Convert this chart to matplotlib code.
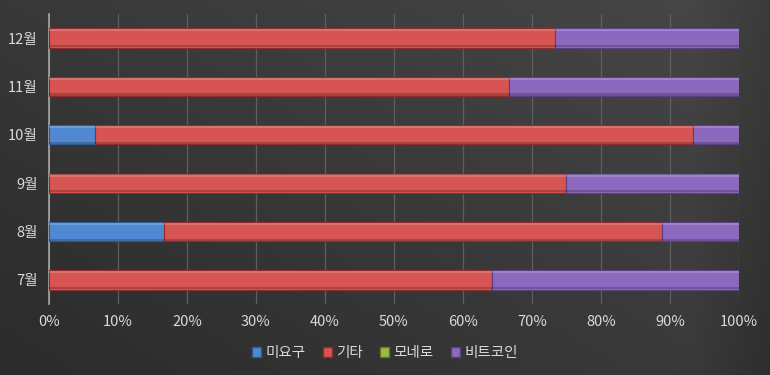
import numpy as np
import matplotlib.pyplot as plt
from matplotlib.patches import Rectangle

plt.rcParams['font.family'] = ['Noto Sans CJK KR', 'DejaVu Sans']

months = ["7월", "8월", "9월", "10월", "11월", "12월"]
series = ["미요구", "기타", "모네로", "비트코인"]
# counts per month (shown as share of total)
miyogu = [0, 3, 0, 1, 0, 0]
gita = [9, 13, 3, 13, 2, 11]
monero = [0, 0, 0, 0, 0, 0]
bitcoin = [5, 2, 1, 1, 1, 4]

colors = ["#5089d2", "#d65452", "#98bb4a", "#8c69be"]
edges = ["#2f5a94", "#8e2c2a", "#5d7a27", "#5a3f85"]

data = np.array([miyogu, gita, monero, bitcoin], dtype=float)
share = data / data.sum(axis=0)

fig = plt.figure(figsize=(7.7, 3.75), dpi=100)

# background gradient
bg = fig.add_axes([0, 0, 1, 1])
yy, xx = np.mgrid[0:1:200j, 0:1:400j]
g = 0.17 + 0.11 * (0.55 * xx + 0.45 * yy) - 0.05 * np.clip(xx - 0.9, 0, 1) * 10
bg.imshow(np.dstack([g, g, g]).clip(0, 1), origin="lower", extent=[0, 1, 0, 1], aspect="auto")
bg.axis("off")

ax = fig.add_axes([0.0636, 0.189, 0.896, 0.774])
ax.patch.set_alpha(0)

y = np.arange(len(months))
left = np.zeros(len(months))
h = 0.4
for i, name in enumerate(series):
    ax.barh(y, share[i], height=h, left=left, color=colors[i],
            edgecolor=edges[i], linewidth=0.8, label=name, zorder=3)
    # bevel: light top edge, dark bottom edge
    ax.barh(y + h * 0.40, share[i], height=h * 0.12, left=left,
            color="white", alpha=0.18, linewidth=0, zorder=4)
    ax.barh(y - h * 0.42, share[i], height=h * 0.12, left=left,
            color="black", alpha=0.2, linewidth=0, zorder=4)
    left += share[i]

ax.set_xlim(0, 1)
ax.set_ylim(-0.5, len(months) - 0.5)
ax.set_xticks(np.arange(0, 1.01, 0.1))
ax.set_xticklabels([f"{int(round(v * 100))}%" for v in np.arange(0, 1.01, 0.1)])
ax.set_yticks(y)
ax.set_yticklabels(months)
ax.tick_params(colors="#d9d9d9", labelsize=10.5, length=0, pad=8)
ax.xaxis.grid(True, color="#5e5e5e", linewidth=0.9, zorder=0)
ax.set_axisbelow(True)
for s in ["top", "right", "bottom"]:
    ax.spines[s].set_visible(False)
ax.spines["left"].set_color("#a6a6a6")
ax.spines["left"].set_linewidth(1.2)

handles = [Rectangle((0, 0), 1, 1, facecolor=colors[i], edgecolor=edges[i]) for i in range(4)]
fig.legend(handles, series, loc="center", bbox_to_anchor=(0.5, 0.058), ncol=4, frameon=False,
           fontsize=10.5, labelcolor="#d9d9d9", handlelength=0.6, handleheight=0.6,
           handletextpad=0.3, columnspacing=1.2)

fig.savefig("out.png", dpi=100)
